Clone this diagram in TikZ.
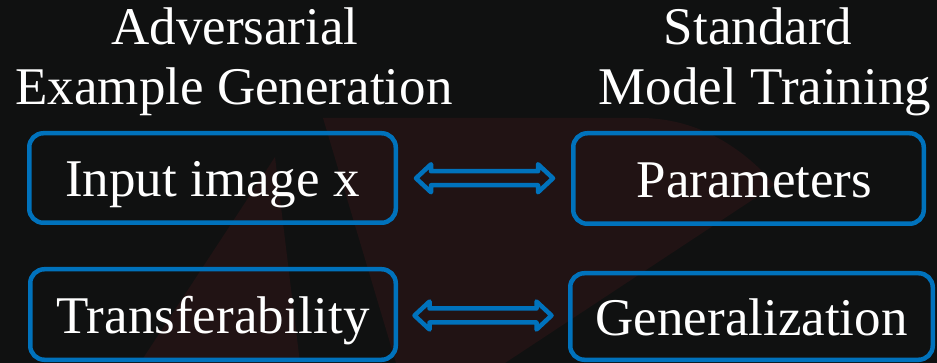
\documentclass[tikz,border=0pt]{standalone}
\usepackage{fontspec}
\setmainfont{Liberation Serif}
\usetikzlibrary{calc}
\definecolor{bgdark}{RGB}{16,17,17}
\definecolor{logored}{RGB}{33,19,20}
\definecolor{boxblue}{RGB}{0,114,188}
\tikzset{
  heading/.style={text=white, font=\fontsize{53}{60}\selectfont, inner sep=0pt, anchor=base},
  box/.style={draw=boxblue, line width=4.5pt, rounded corners=14pt, text=white,
    font=\fontsize{53}{60}\selectfont, text height=48pt, text depth=10pt, inner sep=0pt},
  dblarrow/.style={draw=boxblue, line width=4.5pt, line join=round},
}
\begin{document}
\begin{tikzpicture}[x=1pt, y=-1pt]
  % canvas
  \useasboundingbox (0,0) rectangle (937,363);
  \fill[bgdark] (0,0) rectangle (937,363);

  % faint logo in the background
  \fill[logored] (323,118) -- (640,118) .. controls (700,118) and (745,150) .. (775,185)
    -- (505,363) -- (396,363) -- cycle;
  \fill[logored] (275,157) -- (300,363) -- (140,363) -- cycle;

  % column headings
  \node[heading] (h1a) at (235,45) {Adversarial};
  \node[heading] (h1b) at (234,105) {Example Generation};
  \node[heading] (h2a) at (758,45) {Standard};
  \node[heading] (h2b) at (765,105) {Model Training};

  % boxes
  \node[box, minimum width=366.5pt, minimum height=89.5pt] (inp) at (212.5,178) {Input image x};
  \node[box, minimum width=365.5pt, minimum height=90.5pt] (tra) at (213,314.5) {Transferability};
  \node[box, minimum width=350.5pt, minimum height=90.5pt] (par) at (748.5,178.5) {\hspace*{12pt}Parameters};
  \node[box, minimum width=362.5pt, minimum height=86.5pt] (gen) at (751.5,316.5) {Generalization};

  % outlined double-headed arrows between the columns
  \foreach \a/\b/\m in {inp/par/m1, tra/gen/m2} {
    \coordinate (\m) at ($(\a.east)!0.5!(\b.west)$);
    \draw[dblarrow] ($(\m)+(-68.5,0)$) -- ++(15,-14) -- ++(0,7) -- ++(107,0) -- ++(0,-7)
      -- ++(15,14) -- ++(-15,14) -- ++(0,-7) -- ++(-107,0) -- ++(0,7) -- cycle;
  }
\end{tikzpicture}
\end{document}
